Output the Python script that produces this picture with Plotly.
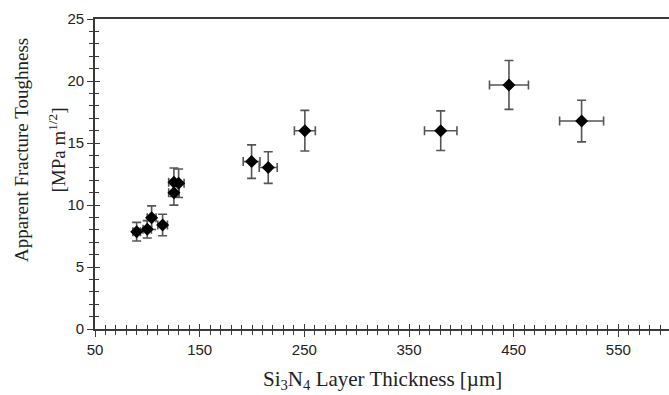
import plotly.graph_objects as go

thickness = [89.8, 99.9, 104.1, 114.6, 125.4, 125.4, 129.9, 199.6, 215.5, 250.5, 380.3, 445.5, 514.9]
toughness = [7.85, 8.04, 8.98, 8.39, 10.99, 11.83, 11.75, 13.5, 13.02, 15.99, 15.99, 19.68, 16.77]
toughness_err = [0.75, 0.7, 0.95, 0.87, 1.0, 1.15, 1.15, 1.35, 1.28, 1.64, 1.6, 1.97, 1.68]
thickness_err = [3.6, 4.0, 4.2, 4.6, 5.0, 5.0, 5.2, 8.0, 8.6, 10.0, 15.5, 18.6, 21.0]

x_tick_vals = [50, 150, 250, 350, 450, 550]
y_tick_vals = [0, 5, 10, 15, 20, 25]

x_title = "Si<sub>3</sub>N<sub>4</sub> Layer Thickness [µm]"
y_title_line1 = "Apparent Fracture Toughness"
y_title_line2 = "[MPa m<sup>1/2</sup>]"

AX = "#3a3a3a"
ERR = "#555555"
SERIF = "Liberation Serif, Times New Roman, serif"
SANS = "Liberation Sans, Arial, sans-serif"

fig = go.Figure()
fig.add_trace(go.Scatter(
    x=thickness, y=toughness, mode="markers",
    marker=dict(symbol="diamond", size=10, color="black"),
    error_y=dict(type="data", array=toughness_err, color=ERR, thickness=1.6, width=4.5),
    error_x=dict(type="data", array=thickness_err, color=ERR, thickness=1.6, width=4.5),
    showlegend=False, hoverinfo="x+y",
))
# invisible trace to carry the overlay axes (inner half of crossing ticks)
fig.add_trace(go.Scatter(
    x=thickness, y=toughness, xaxis="x2", yaxis="y2", mode="markers",
    marker=dict(opacity=0), showlegend=False, hoverinfo="skip",
))

xr = [50, 598.4]
yr = [0, 25]
fig.update_layout(
    width=669, height=395,
    margin=dict(l=95, r=0, t=19, b=66),
    paper_bgcolor="white", plot_bgcolor="white",
    xaxis=dict(
        range=xr, tickvals=x_tick_vals, ticktext=[str(v) for v in x_tick_vals],
        ticks="outside", ticklen=6, tickwidth=1.3, tickcolor=AX,
        minor=dict(ticks="outside", dtick=10, tick0=50, ticklen=4, tickwidth=1.3, tickcolor=AX),
        showline=True, linecolor=AX, linewidth=1.6, mirror=True,
        showgrid=False, zeroline=False,
        tickfont=dict(family=SANS, size=15, color="#222"),
    ),
    xaxis2=dict(
        range=xr, overlaying="x", side="bottom", anchor="y",
        tickvals=x_tick_vals, showticklabels=False,
        ticks="inside", ticklen=5, tickwidth=1.3, tickcolor=AX,
        minor=dict(ticks="inside", dtick=10, tick0=50, ticklen=4, tickwidth=1.3, tickcolor=AX),
        showline=False, showgrid=False, zeroline=False,
    ),
    yaxis=dict(
        range=yr, tickvals=y_tick_vals,
        ticks="outside", ticklen=6, tickwidth=1.3, tickcolor=AX,
        minor=dict(ticks="outside", dtick=1, ticklen=4, tickwidth=1.3, tickcolor=AX),
        showline=True, linecolor=AX, linewidth=1.6,
        showgrid=False, zeroline=False,
        tickfont=dict(family=SANS, size=15, color="#222"),
    ),
    yaxis2=dict(
        range=yr, overlaying="y", side="left", anchor="x",
        tickvals=y_tick_vals, showticklabels=False,
        ticks="inside", ticklen=5, tickwidth=1.3, tickcolor=AX,
        minor=dict(ticks="inside", dtick=1, ticklen=4, tickwidth=1.3, tickcolor=AX),
        showline=False, showgrid=False, zeroline=False,
    ),
    annotations=[
        dict(text=x_title, xref="paper", yref="paper", x=0.5, y=-0.165,
             xanchor="center", yanchor="middle", showarrow=False,
             font=dict(family=SERIF, size=21, color="#222")),
        dict(text=y_title_line1, xref="paper", yref="y", x=-0.128, y=14.4,
             xanchor="center", yanchor="middle", textangle=-90, showarrow=False,
             font=dict(family=SERIF, size=19, color="#222")),
        dict(text=y_title_line2, xref="paper", yref="y", x=-0.066, y=14.4,
             xanchor="center", yanchor="middle", textangle=-90, showarrow=False,
             font=dict(family=SERIF, size=19, color="#222")),
    ],
)

fig.write_html("out.html")
